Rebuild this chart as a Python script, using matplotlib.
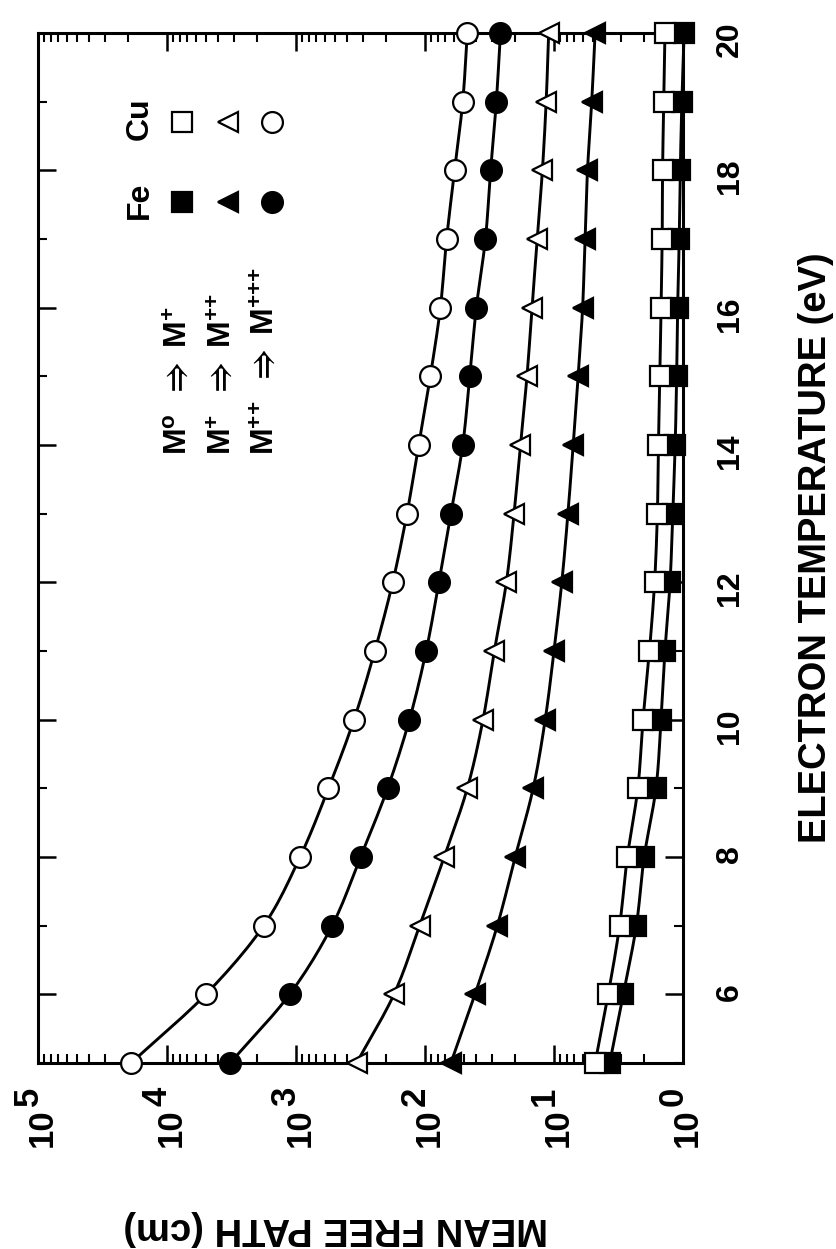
import numpy as np
import matplotlib
matplotlib.use("Agg")
import matplotlib.pyplot as plt
from matplotlib.ticker import MultipleLocator, LogLocator, NullFormatter

plt.rcParams['font.family'] = ['Liberation Sans', 'DejaVu Sans']
plt.rcParams['font.weight'] = 'bold'
plt.rcParams['mathtext.fontset'] = 'custom'
plt.rcParams['mathtext.rm'] = 'Liberation Sans:bold'
plt.rcParams['mathtext.bf'] = 'Liberation Sans:bold'
plt.rcParams['mathtext.it'] = 'Liberation Sans:bold'
plt.rcParams['mathtext.fallback'] = 'stixsans'

# Electron temperature (eV)
temperature = [5, 6, 7, 8, 9, 10, 11, 12, 13, 14, 15, 16, 17, 18, 19, 20]

# Mean free path (cm) for successive ionization steps
fe_m0 = [3.7, 2.9, 2.3, 2.0, 1.62, 1.48, 1.38, 1.26, 1.20, 1.15, 1.12, 1.10, 1.07, 1.05, 1.02, 0.98]
cu_m0 = [4.8, 3.8, 3.1, 2.7, 2.24, 2.04, 1.82, 1.66, 1.58, 1.55, 1.51, 1.48, 1.45, 1.44, 1.41, 1.38]
fe_m1 = [63, 41, 27.5, 20, 14.5, 11.7, 10.0, 8.7, 7.8, 7.1, 6.5, 6.0, 5.75, 5.5, 5.1, 4.8]
cu_m1 = [339, 174, 110, 71, 47, 35.5, 29, 23.4, 20.4, 18.2, 16.2, 14.8, 13.5, 12.3, 11.5, 11.0]
fe_m2 = [3240, 1120, 525, 316, 195, 132, 98, 78, 63, 51, 45, 40, 34, 31, 28, 26]
cu_m2 = [19000, 5000, 1780, 930, 560, 355, 245, 178, 138, 112, 91, 76, 68, 59, 51, 47]

decades = [0, 1, 2, 3, 4, 5]
temp_ticks = [6, 8, 10, 12, 14, 16, 18, 20]

transitions = [r"$\mathbf{M^{o}}\;\;\Rightarrow\;\mathbf{M^{+}}$",
               r"$\mathbf{M^{+}}\;\;\Rightarrow\;\mathbf{M^{{+}{+}}}$",
               r"$\mathbf{M^{{+}{+}}}\;\;\Rightarrow\;\mathbf{M^{{+}{+}{+}}}$"]


def smooth_curve(t, v, steps=12):
    """Catmull-Rom curve through the points, built in (t, log v) space."""
    t = np.asarray(t, float)
    y = np.log10(np.asarray(v, float))
    pt = np.concatenate([[2 * t[0] - t[1]], t, [2 * t[-1] - t[-2]]])
    py = np.concatenate([[2 * y[0] - y[1]], y, [2 * y[-1] - y[-2]]])
    xs, ys = [], []
    s = np.linspace(0, 1, steps, endpoint=False)
    for i in range(1, len(pt) - 2):
        for arr, out in ((pt, xs), (py, ys)):
            p0, p1, p2, p3 = arr[i - 1], arr[i], arr[i + 1], arr[i + 2]
            out.extend(0.5 * ((2 * p1) + (-p0 + p2) * s
                              + (2 * p0 - 5 * p1 + 4 * p2 - p3) * s ** 2
                              + (-p0 + 3 * p1 - 3 * p2 + p3) * s ** 3))
    xs.append(t[-1])
    ys.append(y[-1])
    return np.array(xs), 10 ** np.array(ys)


W, H = 836, 1249
fig = plt.figure(figsize=(W / 100, H / 100), dpi=100)
L, R, T, B = 38, 683, 33, 1063
ax = fig.add_axes([L / W, 1 - B / H, (R - L) / W, (B - T) / H])

ax.set_xscale('log')
ax.set_xlim(1e5, 1e0)
ax.set_ylim(5, 20)

series = [
    (fe_m0, 's', 'black', 14),
    (cu_m0, 's', 'white', 14),
    (fe_m1, '<', 'black', 14),
    (cu_m1, '<', 'white', 14),
    (fe_m2, 'o', 'black', 15),
    (cu_m2, 'o', 'white', 15),
]
for vals, mk, fc, ms in series:
    ct, cv = smooth_curve(temperature, vals)
    ax.plot(cv, ct, '-', color='black', lw=2.1, zorder=2, clip_on=False)
for vals, mk, fc, ms in series:
    ax.plot(vals, temperature, ls='none', marker=mk, ms=ms, mfc=fc, mec='black',
            mew=1.6, zorder=4, clip_on=False)

# axes frame and ticks
for sp in ax.spines.values():
    sp.set_linewidth(2.2)
ax.xaxis.set_major_locator(LogLocator(base=10, numticks=10))
ax.xaxis.set_minor_locator(LogLocator(base=10, subs=np.arange(2, 10), numticks=20))
ax.xaxis.set_major_formatter(NullFormatter())
ax.xaxis.set_minor_formatter(NullFormatter())
ax.yaxis.set_minor_locator(MultipleLocator(1))
ax.set_yticks(temp_ticks)
ax.set_yticklabels([str(t) for t in temp_ticks])
ax.tick_params(which='both', direction='in', top=True, bottom=True, left=True, right=True,
               labelleft=False, labelright=True, labelbottom=False)
ax.tick_params(which='major', length=13, width=1.8)
ax.tick_params(which='minor', length=6.5, width=1.5)
ax.tick_params(axis='y', which='major', labelsize=23, pad=23, labelrotation=90)

# decade labels, written as base and raised exponent
for k in decades:
    ax.annotate('10', xy=(10.0 ** k, 0), xycoords=('data', 'axes fraction'),
                xytext=(2.9, -33), textcoords='offset points', rotation=90,
                ha='center', va='top', fontsize=25, fontweight='bold')
    ax.annotate(str(k), xy=(10.0 ** k, 0), xycoords=('data', 'axes fraction'),
                xytext=(-7.2, -17.3), textcoords='offset points', rotation=90,
                ha='center', va='top', fontsize=25, fontweight='bold')

# axis titles
fig.text(816 / W, 1 - 548 / H, 'ELECTRON TEMPERATURE (eV)', rotation=90,
         ha='center', va='center', fontsize=27.5, fontweight='bold')
fig.text(336 / W, 1 - 1228 / H, 'MEAN FREE PATH (cm)', rotation=180,
         ha='center', va='center', fontsize=27.5, fontweight='bold')


# key
def fx(px):
    return (px - L) / (R - L)


def fy(py):
    return (B - py) / (B - T)


ax.text(fx(140), fy(119), 'Cu', rotation=90, ha='center', va='center',
        fontsize=23, fontweight='bold', transform=ax.transAxes)
ax.text(fx(140), fy(200), 'Fe', rotation=90, ha='center', va='center',
        fontsize=23, fontweight='bold', transform=ax.transAxes)
cols = [182, 228, 272]
marks = ['s', '<', 'o']
sizes = [14, 14, 15]
for cx, mk, ms in zip(cols, marks, sizes):
    ax.plot([fx(cx)], [fy(122)], marker=mk, ms=ms, mfc='white', mec='black', mew=1.6,
            transform=ax.transAxes, clip_on=False)
    ax.plot([fx(cx)], [fy(202)], marker=mk, ms=ms, mfc='black', mec='black', mew=1.6,
            transform=ax.transAxes, clip_on=False)
for cx, label in zip([193, 237, 280], transitions):
    ax.text(fx(cx), fy(455), label, rotation=90, ha='right', va='bottom',
            fontsize=23, transform=ax.transAxes)

fig.savefig('out.png', dpi=100)
